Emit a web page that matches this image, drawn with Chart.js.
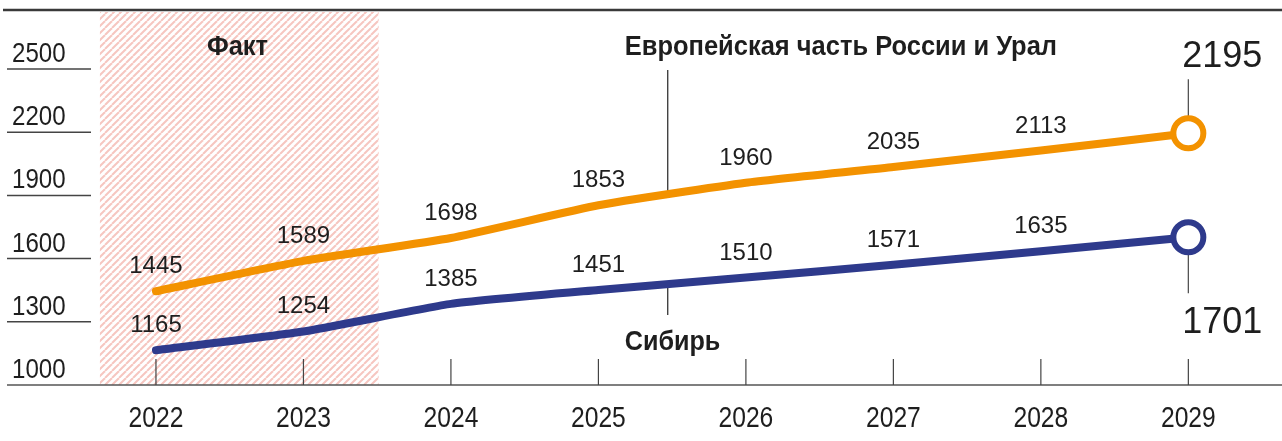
<!DOCTYPE html>
<html>
<head>
<meta charset="utf-8">
<script src="https://cdn.jsdelivr.net/npm/chart.js@4.4.1/dist/chart.umd.min.js"></script>
<style>
  body { margin: 0; background: #fff; }
  canvas { display: block; }
</style>
</head>
<body>
<canvas id="chart" width="1282" height="441"></canvas>
<script>
const years = [2022, 2023, 2024, 2025, 2026, 2027, 2028, 2029]
const europeUral = [1445, 1589, 1698, 1853, 1960, 2035, 2113, 2195]
const siberia = [1165, 1254, 1385, 1451, 1510, 1571, 1635, 1701]
const yTicks = [1000, 1300, 1600, 1900, 2200, 2500]
const seriesNames = ['Европейская часть России и Урал', 'Сибирь']
const factLabel = 'Факт'
const factRange = [2021.62, 2023.51]   // hatched "fact" band, in years
const leaderYear = 2025.47             // where the series name pointers sit

const ORANGE = '#F39200'
const BLUE = '#2E3A8C'
const TEXT = '#1e1e1e'
const SANS = "'Liberation Sans', Arial, sans-serif"

// condensed look: squeeze Liberation Sans horizontally
function narrowText(ctx, text, x, y, align, squeeze) {
    ctx.save()
    ctx.translate(x, y)
    ctx.scale(squeeze, 1)
    ctx.textAlign = align
    ctx.fillText(text, 0, 0)
    ctx.restore()
}

function hatchPattern(ctx) {
    const n = 7
    const c = document.createElement('canvas')
    c.width = n; c.height = n
    const p = c.getContext('2d')
    p.fillStyle = '#fff'
    p.fillRect(0, 0, n, n)
    p.strokeStyle = '#f6c6c0'
    p.lineWidth = 2
    for (let o = -n; o <= n; o += n) {
        p.beginPath()
        p.moveTo(o, n)
        p.lineTo(o + n, 0)
        p.stroke()
    }
    return ctx.createPattern(c, 'repeat')
}

function lerpSeries(arr, yr) {
    const i = Math.floor(yr - years[0])
    const f = yr - years[0] - i
    return arr[i] + (arr[i + 1] - arr[i]) * f
}

function vline(ctx, x, y0, y1, color, w) {
    ctx.strokeStyle = color
    ctx.lineWidth = w
    ctx.beginPath()
    ctx.moveTo(x, y0)
    ctx.lineTo(x, y1)
    ctx.stroke()
}

const decorations = {
    id: 'decorations',
    beforeDatasetsDraw(chart) {
        const { ctx, chartArea, scales: { x, y } } = chart
        const base = y.getPixelForValue(yTicks[0])
        ctx.save()
        ctx.textBaseline = 'alphabetic'

        // hatched fact band
        const x0 = x.getPixelForValue(factRange[0])
        const x1 = x.getPixelForValue(factRange[1])
        ctx.fillStyle = hatchPattern(ctx)
        ctx.fillRect(x0, chartArea.top + 2, x1 - x0, base - chartArea.top - 2)

        // top rule
        ctx.strokeStyle = '#3a3a3a'
        ctx.lineWidth = 2.5
        ctx.beginPath()
        ctx.moveTo(chartArea.left - 4, chartArea.top)
        ctx.lineTo(chartArea.right, chartArea.top)
        ctx.stroke()

        // y ticks: short rules with labels above
        ctx.font = '28px ' + SANS
        ctx.fillStyle = TEXT
        yTicks.forEach(v => {
            const py = y.getPixelForValue(v)
            narrowText(ctx, String(v), chartArea.left + 5, py - 7, 'left', 0.86)
            if (v > yTicks[0]) {
                ctx.strokeStyle = '#444'
                ctx.lineWidth = 1.5
                ctx.beginPath()
                ctx.moveTo(chartArea.left, py)
                ctx.lineTo(chartArea.left + 84, py)
                ctx.stroke()
            }
        })

        // baseline
        ctx.strokeStyle = '#555'
        ctx.lineWidth = 1.5
        ctx.beginPath()
        ctx.moveTo(chartArea.left, base)
        ctx.lineTo(chartArea.right, base)
        ctx.stroke()

        // x ticks and labels
        ctx.font = '29px ' + SANS
        years.forEach(yr => {
            const px = x.getPixelForValue(yr)
            vline(ctx, px, base - 26, base, '#444', 1.2)
            ctx.fillStyle = TEXT
            narrowText(ctx, String(yr), px, base + 42, 'center', 0.85)
        })

        // fact label
        ctx.font = 'bold 28px ' + SANS
        narrowText(ctx, factLabel, x0 + 107, chartArea.top + 45, 'left', 0.91)

        // series names with pointer lines
        const lx = x.getPixelForValue(leaderYear)
        vline(ctx, lx, chartArea.top + 60, y.getPixelForValue(lerpSeries(europeUral, leaderYear)), '#333', 1.3)
        vline(ctx, lx, y.getPixelForValue(lerpSeries(siberia, leaderYear)), base - 70, '#333', 1.3)
        ctx.fillStyle = TEXT
        narrowText(ctx, seriesNames[0], lx - 43, chartArea.top + 45, 'left', 0.91)
        narrowText(ctx, seriesNames[1], lx - 43, base - 35, 'left', 0.9)

        // end pointer lines
        const last = years.length - 1
        const ex = x.getPixelForValue(years[last])
        const eo = y.getPixelForValue(europeUral[last])
        const eb = y.getPixelForValue(siberia[last])
        vline(ctx, ex, eo - 54, eo, '#555', 1.3)
        vline(ctx, ex, eb, eb + 56, '#555', 1.3)
        ctx.restore()
    },
    afterDatasetsDraw(chart) {
        const { ctx, scales: { x, y } } = chart
        const last = years.length - 1
        ctx.save()
        ctx.fillStyle = TEXT
        ctx.textAlign = 'center'
        ctx.textBaseline = 'alphabetic'
        ctx.font = '24px ' + SANS
        for (let i = 0; i < last; i++) {
            const px = x.getPixelForValue(years[i])
            ctx.fillText(String(europeUral[i]), px, y.getPixelForValue(europeUral[i]) - 18)
            ctx.fillText(String(siberia[i]), px, y.getPixelForValue(siberia[i]) - 18)
        }
        ctx.font = '36px ' + SANS
        const ex = x.getPixelForValue(years[last]) + 34
        ctx.fillText(String(europeUral[last]), ex, y.getPixelForValue(europeUral[last]) - 66)
        ctx.fillText(String(siberia[last]), ex, y.getPixelForValue(siberia[last]) + 96)
        ctx.restore()
    }
}

function series(values, color) {
    return {
        data: years.map((yr, i) => ({ x: yr, y: values[i] })),
        borderColor: color,
        borderWidth: 8,
        borderCapStyle: 'round',
        borderJoinStyle: 'round',
        tension: 0.15,
        pointRadius: values.map((v, i) => i === values.length - 1 ? 15 : 0),
        pointBorderWidth: 6,
        pointBorderColor: color,
        pointBackgroundColor: '#fff',
        pointHoverRadius: 0,
        clip: false
    }
}

new Chart(document.getElementById('chart'), {
    type: 'line',
    data: {
        datasets: [series(europeUral, ORANGE), series(siberia, BLUE)]
    },
    options: {
        responsive: false,
        animation: false,
        devicePixelRatio: 1,
        layout: { autoPadding: false, padding: { left: 7, right: 0, top: 10, bottom: 56 } },
        plugins: { legend: { display: false }, tooltip: { enabled: false } },
        scales: {
            x: { type: 'linear', display: false, min: 2020.99, max: 2029.635 },
            y: { type: 'linear', display: false, min: 1000, max: 2780 }
        }
    },
    plugins: [decorations]
})
</script>
</body>
</html>
